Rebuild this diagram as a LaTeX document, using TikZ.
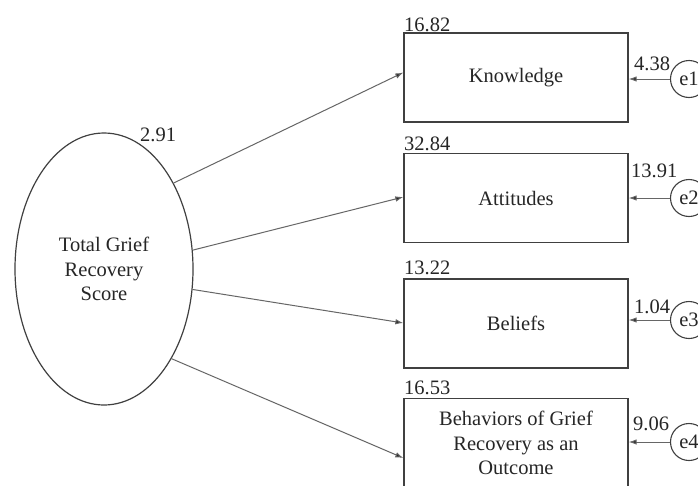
\documentclass[tikz,border=0pt]{standalone}
\usepackage{fontspec}
\setmainfont{Liberation Serif}
\usetikzlibrary{shapes.geometric,arrows.meta,calc}
\begin{document}
\begin{tikzpicture}[x=1pt,y=-1pt,
  txt/.style={font=\fontsize{20.5}{24.5}\selectfont, text=black!85},
  box/.style={draw=black!75, line width=1.3pt, rectangle, minimum width=224pt, minimum height=89pt, inner sep=0pt, align=center, txt},
  err/.style={draw=black!75, line width=1.1pt, circle, minimum size=37pt, inner sep=0pt, txt},
  path/.style={draw=black!60, line width=1pt, -{Latex[length=8pt,width=5.5pt,fill=black!85]}},
  num/.style={txt, inner sep=0pt}
]
\useasboundingbox (0,0) rectangle (698,485);
\clip (0,0) rectangle (698,485);
\fill[white] (0,0) rectangle (698,485);

\node[draw=black!75, line width=1.2pt, ellipse, minimum width=178pt, minimum height=272pt, inner sep=0pt, align=center, txt] (F) at (104,269) {Total Grief\\Recovery\\Score};

\node[box] (K) at (516,77.5) {Knowledge};
\node[box] (A) at (516,198) {Attitudes};
\node[box] (B) at (516,323.5) {Beliefs};
\node[box] (O) at (516,443) {Behaviors of Grief\\Recovery as an\\Outcome};

\node[err] (e1) at (689,79) {e1};
\node[err] (e2) at (689,198) {e2};
\node[err] (e3) at (689,320) {e3};
\node[err] (e4) at (689,442) {e4};

\draw[path] (F.51.6) -- ([yshift=5pt]K.west);
\draw[path] (F.12.7) -- ([yshift=1pt]A.west);
\draw[path] (F.-13.3) -- ([yshift=0.5pt]B.west);
\draw[path] (F.-53.8) -- ([yshift=-15pt]O.west);

\draw[path] (e1.west) -- (e1.west -| K.east);
\draw[path] (e2.west) -- (e2.west -| A.east);
\draw[path] (e3.west) -- (e3.west -| B.east);
\draw[path] (e4.west) -- (e4.west -| O.east);

\node[num, anchor=base west] (v0) at (140,141) {2.91};
\node[num, anchor=base west] (m1) at (404,31) {16.82};
\node[num, anchor=base west] (m2) at (404,150) {32.84};
\node[num, anchor=base west] (m3) at (404,274) {13.22};
\node[num, anchor=base west] (m4) at (404,394) {16.53};

\node[num, anchor=base west] (v1) at (634,70) {4.38};
\node[num, anchor=base west] (v2) at (631,177) {13.91};
\node[num, anchor=base west] (v3) at (634,313) {1.04};
\node[num, anchor=base west] (v4) at (633,430) {9.06};
\end{tikzpicture}
\end{document}
